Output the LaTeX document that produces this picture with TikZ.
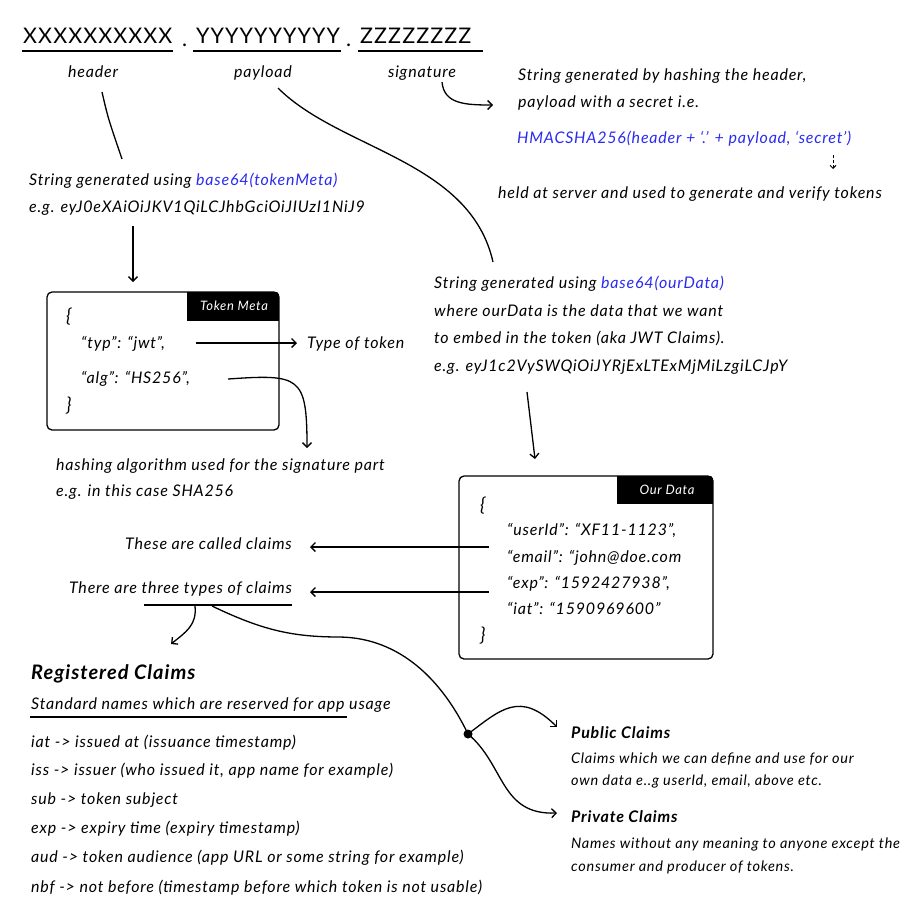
\documentclass[tikz,border=0pt]{standalone}
\usepackage{fontspec}
\setmainfont{Lato}[LetterSpace=5]
\usetikzlibrary{arrows.meta}
\definecolor{hblue}{HTML}{2B2BF0}
\begin{document}
\begin{tikzpicture}[x=1pt,y=-1pt,
  txt/.style={anchor=base west,inner sep=0pt,font=\fontsize{16}{19}\selectfont\itshape},
  stxt/.style={anchor=base west,inner sep=0pt,font=\fontsize{14.5}{17}\selectfont\itshape},
  big/.style={anchor=base west,inner sep=0pt,font=\fontsize{21.5}{26}\selectfont},
  bold/.style={anchor=base west,inner sep=0pt,font=\fontsize{16}{19}\selectfont\bfseries\itshape},
  tab/.style={inner sep=0pt,text=white,font=\fontsize{13}{15}\selectfont\itshape},
  box/.style={draw,line width=1.3pt,rounded corners=5pt,inner sep=0pt},
  brace/.style={anchor=base west,inner sep=0pt,font=\fontsize{19}{22}\selectfont\itshape},
  ln/.style={line width=1.3pt},
  ul/.style={line width=2pt},
  arr/.style={ln,-{Straight Barb[length=4.5pt,width=9pt]}},
]
\useasboundingbox (0,0) rectangle (923,906);

% title
\node[big] (hx) at (23,43) {XXXXXXXXXX};
\node[big] (d1) at (182,46) {.};
\node[big] (hy) at (196,43) {YYYYYYYYYY};
\node[big] (d2) at (346,46) {.};
\node[big] (hz) at (360,43) {ZZZZZZZZ};
\draw[ul] (22,51) -- (173,51);
\draw[ul] (193,51) -- (341,51);
\draw[ul] (358,51) -- (483,51);
\node[txt,anchor=base] (header) at (93,77) {header};
\node[txt,anchor=base] (payload) at (263,77) {payload};
\node[txt,anchor=base] (signature) at (422,77) {signature};

% header explanation
\coordinate (h1) at (102,92);
\coordinate (h2) at (122,159);
\draw[ln] (h1) .. controls (108,118) .. (h2);
\node[txt] (s1) at (29,185) {String generated using {\color{hblue}base64(tokenMeta)}};
\node[txt] (s1b) at (29,212) {e.g. eyJ0eXAiOiJKV1QiLCJhbGciOiJIUzI1NiJ9};
\coordinate (a1) at (133,226);
\coordinate (a1e) at (133,282);
\draw[arr] (a1) -- (a1e);

% token meta box
\node[box,minimum width=232pt,minimum height=138pt] (tm) at (163,361) {};
\begin{scope}
\clip[rounded corners=5pt] (tm.north west) rectangle (tm.south east);
\fill (187,292) rectangle (279,321);
\end{scope}
\node[tab] (tmlab) at (234,306) {Token Meta};
\node[brace] (tb1) at (66,322) {\{};
\node[txt] (typ) at (81,348) {“typ”: “jwt”,};
\node[txt] (alg) at (81,383) {“alg”: “HS256”,};
\node[brace] (tb2) at (66,411) {\}};
\node[txt] (tot) at (307,348) {Type of token};
\coordinate (ty1) at (196,343);
\coordinate (ty2) at (297,343);
\draw[arr] (ty1) -- (ty2);
\coordinate (al1) at (228,379);
\coordinate (al2) at (307,448);
\draw[arr] (al1) .. controls (300,374) and (307,376) .. (al2);
\node[txt] (hash1) at (56,470) {hashing algorithm used for the signature part};
\node[txt] (hash2) at (56,496) {e.g. in this case SHA256};

% signature explanation
\coordinate (sg1) at (442,82);
\coordinate (sg2) at (493,105);
\draw[arr] (sg1) .. controls (444,104) and (465,105) .. (sg2);
\node[txt] (sig1) at (518,80) {String generated by hashing the header,};
\node[txt] (sig2) at (518,107) {payload with a secret i.e.};
\node[txt,text=hblue] (hmac) at (517,143) {HMACSHA256(header + ‘.’ + payload, ‘secret’)};
\coordinate (dsh1) at (833,155);
\coordinate (dsh2) at (833,169);
\draw[line width=0.9pt,dashed,dash pattern=on 3pt off 2pt,-{Straight Barb[length=3pt,width=6pt]}] (dsh1) -- (dsh2);
\node[txt] (held) at (498,198) {held at server and used to generate and verify tokens};

% payload explanation
\coordinate (p1) at (278,88);
\coordinate (p2) at (493,262);
\draw[ln] (p1) .. controls (340,150) and (470,160) .. (p2);
\node[txt] (pl1) at (434,288) {String generated using {\color{hblue}base64(ourData)}};
\node[txt] (pl2) at (434,316) {where ourData is the data that we want};
\node[txt] (pl3) at (434,343) {to embed in the token (aka JWT Claims).};
\node[txt] (pl4) at (434,371) {e.g. eyJ1c2VySWQiOiJYRjExLTExMjMiLzgiLCJpY};
\coordinate (pa1) at (527,392);
\coordinate (pa2) at (535,459);
\draw[arr] (pa1) -- (pa2);

% our data box
\node[box,minimum width=254pt,minimum height=183pt] (od) at (586,567.5) {};
\begin{scope}
\clip[rounded corners=5pt] (od.north west) rectangle (od.south east);
\fill (617,476) rectangle (713,504);
\end{scope}
\node[tab] (odlab) at (667,490) {Our Data};
\node[brace] (ob1) at (480,511) {\{};
\node[txt] (uid) at (507,535) {“userId”: “XF11-1123”,};
\node[txt] (em) at (507,562) {“email”: “john@doe.com};
\node[txt] (exp) at (507,588) {“exp”: “1592427938”,};
\node[txt] (iat) at (507,614) {“iat”: “1590969600”};
\node[brace] (ob2) at (480,641) {\}};

% claims
\node[txt,anchor=base east] (called) at (292,549) {These are called claims};
\node[txt,anchor=base east] (three) at (292,593) {There are three types of claims};
\coordinate (c1) at (489,547);
\coordinate (c1e) at (310,547);
\coordinate (c2) at (489,592);
\coordinate (c2e) at (310,592);
\draw[arr] (c1) -- (c1e);
\draw[arr] (c2) -- (c2e);
\draw[ln] (144,605) -- (292,605);
\coordinate (r1) at (195,606);
\coordinate (r2) at (171,644);
\draw[arr] (r1) .. controls (197,625) and (186,632) .. (r2);
\coordinate (dot) at (468,734);
\coordinate (lc) at (212,606);
\draw[ln] (lc) .. controls (262,630) and (292,637) .. (340,637) .. controls (400,638) and (442,680) .. (dot);
\fill (dot) circle (4.5pt);
\coordinate (pu) at (557,727);
\coordinate (pr) at (557,813);
\draw[arr] (dot) .. controls (500,710) and (520,690) .. (pu);
\draw[arr] (dot) .. controls (505,765) and (500,815) .. (pr);

% registered claims
\node[anchor=base west,inner sep=0pt,font=\fontsize{20}{23}\selectfont\bfseries\itshape] (reg) at (31,679) {Registered Claims};
\node[txt] (std) at (31,709) {Standard names which are reserved for app usage};
\draw[ln] (30,717) -- (347,717);
\node[txt] (l1) at (31,747) {iat -> issued at (issuance timestamp)};
\node[txt] (l2) at (31,775) {iss -> issuer (who issued it, app name for example)};
\node[txt] (l3) at (31,804) {sub -> token subject};
\node[txt] (l4) at (31,833) {exp -> expiry time (expiry timestamp)};
\node[txt] (l5) at (31,862) {aud -> token audience (app URL or some string for example)};
\node[txt] (l6) at (31,892) {nbf -> not before (timestamp before which token is not usable)};

% public / private
\node[bold] (pub) at (571,738) {Public Claims};
\node[stxt] (pub1) at (571,763) {Claims which we can define and use for our};
\node[stxt] (pub2) at (571,785) {own data e..g userId, email, above etc.};
\node[bold] (pri) at (571,822) {Private Claims};
\node[stxt] (pri1) at (571,848) {Names without any meaning to anyone except the};
\node[stxt] (pri2) at (571,871) {consumer and producer of tokens.};
\end{tikzpicture}
\end{document}
